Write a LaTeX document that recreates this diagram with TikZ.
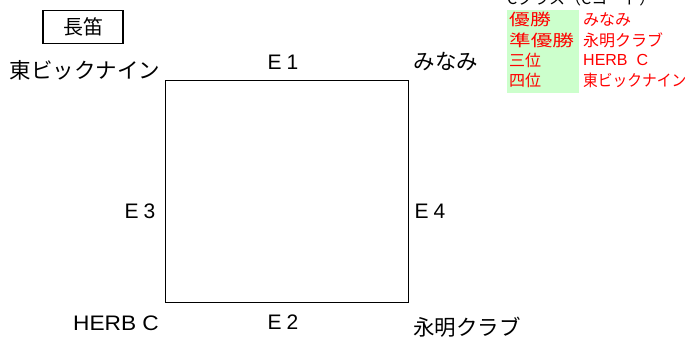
\documentclass[tikz,border=0pt]{standalone}
\usepackage{fontspec}
\setmainfont{Noto Sans CJK JP}
\newfontfamily\lat{Liberation Sans}
\definecolor{cgreen}{HTML}{CCFFCC}
\definecolor{cred}{HTML}{FF0000}
\begin{document}
\begin{tikzpicture}[x=1pt,y=-1pt,
  lbl/.style={inner sep=0pt,font=\fontsize{21.5}{24}\selectfont},
  llbl/.style={inner sep=0pt,font=\lat\fontsize{21}{24}\selectfont},
  tbl/.style={inner sep=0pt,anchor=west,text=cred,font=\fontsize{16}{19}\selectfont},
  ttl/.style={inner sep=0pt,anchor=base west,font=\fontsize{16}{19}\selectfont}]
\useasboundingbox (0,0) rectangle (686,339);
\clip (0,0) rectangle (686,339);
% title box
\node[draw,line width=1.4pt,minimum width=80pt,minimum height=33pt,inner sep=0pt,
  font=\fontsize{20}{24}\selectfont] (title) at (83,27) {長笛};
% square
\coordinate (tl) at (165,80);
\coordinate (br) at (408,302);
\draw[line width=0.9pt] (tl) rectangle (br);
% labels
\node[llbl] (e1) at (283,62) {E\kern5pt 1};
\node[llbl] (e2) at (283,322) {E\kern5pt 2};
\node[llbl] (e3) at (140,211) {E\kern5pt 3};
\node[llbl] (e4) at (430,211) {E\kern5pt 4};
\node[lbl] (t1) at (85,70) {東ビックナイン};
\node[lbl] (t2) at (446,62) {みなみ};
\node[llbl] (t3) at (116,323) {\scalebox{1.08}[1]{HERB C}};
\node[lbl] (t4) at (467,327.5) {永明クラブ};
% table
\fill[cgreen] (507,10) rectangle (579,93);
\node[ttl] (ct) at (507,5) {Cクラス（Cコート）};
\node[tbl] (r1a) at (509,19.5) {\scalebox{1.3}[1]{優勝}};
\node[tbl] (r2a) at (509,40) {\scalebox{1.35}[1]{準優勝}};
\node[tbl] (r3a) at (509,60) {三位};
\node[tbl] (r4a) at (509,80.5) {四位};
\node[tbl] (r1b) at (583,19.5) {みなみ};
\node[tbl] (r2b) at (583,40) {永明クラブ};
\node[tbl,font=\lat\fontsize{16}{19}\selectfont] (r3b) at (583,60) {HERB\ \ C};
\node[tbl] (r4b) at (583,80.5) {\scalebox{0.92}[1]{東ビックナイン}};
\end{tikzpicture}
\end{document}
